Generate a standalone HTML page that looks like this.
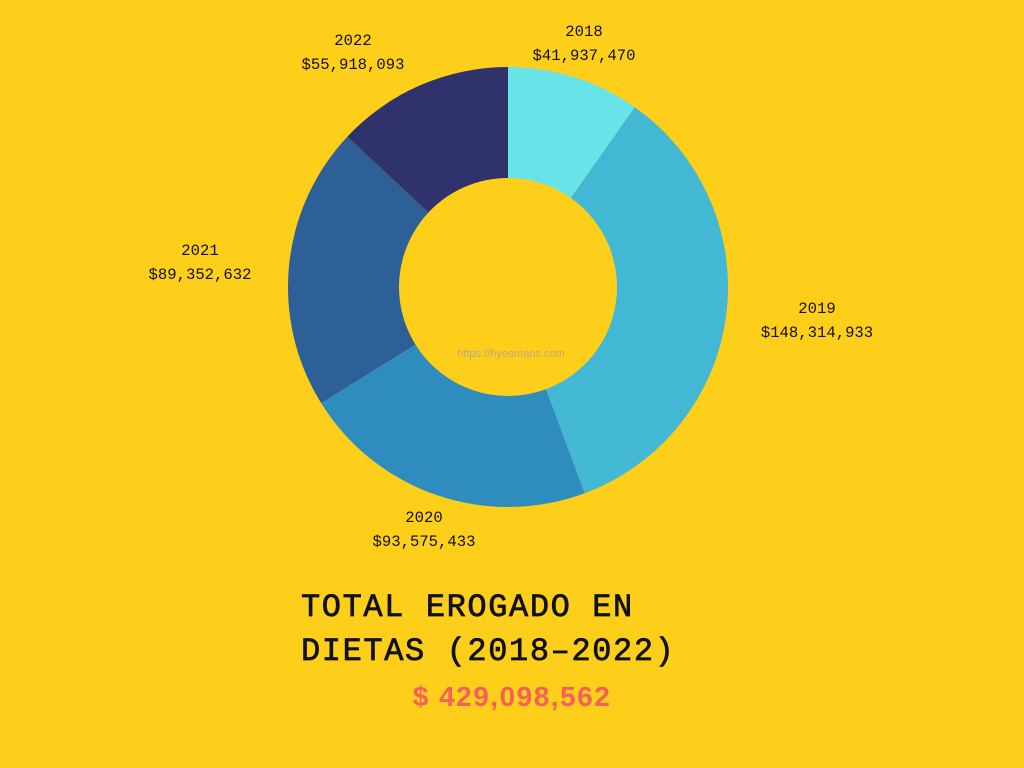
<!DOCTYPE html>
<html><head><meta charset="utf-8"><style>
body{margin:0;background:#FDCE1A;}
svg{display:block}
</style></head><body>
<svg width="1024" height="768" xmlns="http://www.w3.org/2000/svg">
<rect width="1024" height="768" fill="#FDCE1A"/>
<g id="slices"></g>
<g id="labels" font-family="Liberation Mono, monospace" font-size="15.6" fill="#111" text-anchor="middle"></g>
<text x="511" y="357" font-family="Liberation Sans, sans-serif" font-size="11" fill="#b9a98a" text-anchor="middle">https://hyeomans.com</text>
<text font-family="Liberation Mono, monospace" font-size="32" letter-spacing="1.6" fill="#111" stroke="#111" stroke-width="0.7"><tspan x="301" y="616">TOTAL EROGADO EN</tspan><tspan x="301" y="660">DIETAS (2018–2022)</tspan></text>
<text x="512" y="706" font-family="Liberation Sans, sans-serif" font-weight="bold" font-size="28" letter-spacing="1.5" fill="#F6605A" text-anchor="middle">$ 429,098,562</text>
</svg>
<script>
const categories=["2018","2019","2020","2021","2022"];
const values=[41937470,148314933,93575433,89352632,55918093];
const colors=["#68E4E9","#42B8D5","#2F8CBE","#2D6097","#30336B"];
const labelPos=[[584,31],[817,308],[424,517],[200,250],[353,40]];
const cx=508,cy=287,R=220,r=109;
const total=values.reduce((a,b)=>a+b,0);
const gS=document.getElementById('slices'),gL=document.getElementById('labels');
const NS="http://www.w3.org/2000/svg";
function pt(a,rad){return [cx+rad*Math.sin(a),cy-rad*Math.cos(a)];}
let a0=0;
values.forEach((v,i)=>{
  const a1=a0+v/total*2*Math.PI;
  const [x0,y0]=pt(a0,R),[x1,y1]=pt(a1,R),[x2,y2]=pt(a1,r),[x3,y3]=pt(a0,r);
  const lg=(a1-a0)>Math.PI?1:0;
  const p=document.createElementNS(NS,'path');
  p.setAttribute('d',`M${x0},${y0}A${R},${R} 0 ${lg} 1 ${x1},${y1}L${x2},${y2}A${r},${r} 0 ${lg} 0 ${x3},${y3}Z`);
  p.setAttribute('fill',colors[i]);
  
  
  gS.appendChild(p);
  const t=document.createElementNS(NS,'text');
  
  
  const [lx,ly]=labelPos[i];
  t.innerHTML=`<tspan x="${lx}" y="${ly+5}">${categories[i]}</tspan><tspan x="${lx}" y="${ly+29}">$${v.toLocaleString('en-US')}</tspan>`;
  gL.appendChild(t);
  a0=a1;
});
</script>
</body></html>
